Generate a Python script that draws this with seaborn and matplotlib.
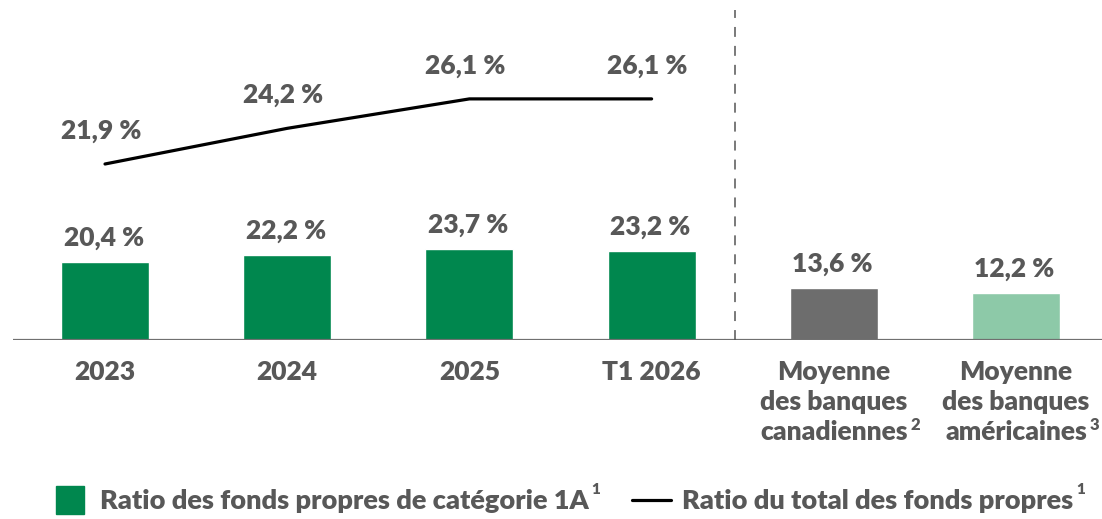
import matplotlib
matplotlib.use("Agg")
import matplotlib.pyplot as plt
import seaborn as sns
import pandas as pd
from matplotlib.lines import Line2D

# Données du graphique
categories = ["2023", "2024", "2025", "T1 2026",
              "Moyenne\ndes banques\ncanadiennes", "Moyenne\ndes banques\naméricaines"]
ratio_1a = [20.4, 22.2, 23.7, 23.2, 13.6, 12.2]
periodes_total = [0, 1, 2, 3]
ratio_total = [21.9, 24.2, 26.1, 26.1]
notes_categories = ["", "", "", "", "2", "3"]
couleurs_barres = ["#00874E", "#00874E", "#00874E", "#00874E", "#6D6D6D", "#8DC9A8"]
legende_labels = ["Ratio des fonds propres de catégorie 1A", "Ratio du total des fonds propres"]
legende_notes = ["1", "1"]

GRIS = "#585858"
VERT = "#00874E"
POIDS = "heavy"
TAILLE = 19


def fmt(v):
    return f"{v:.1f}".replace(".", ",") + " %"


sns.set_style("white")
plt.rcParams['font.family'] = ['Lato', 'DejaVu Sans']

fig = plt.figure(figsize=(11.02, 5.19), dpi=100)
ax = fig.add_axes([13 / 1102, 179 / 519, 1089 / 1102, 340 / 519])

df = pd.DataFrame({"categorie": categories, "ratio": ratio_1a})
sns.barplot(data=df, x="categorie", y="ratio", hue="categorie", palette=couleurs_barres,
            legend=False, width=0.483, saturation=1, ax=ax)
ax.set_xlim(-0.505, 5.472)
ax.set_ylim(0, 88.8)

for i, v in enumerate(ratio_1a):
    ax.annotate(fmt(v), (i, v), xytext=(-1, 17.5), textcoords="offset points",
                ha="center", va="center", fontsize=TAILLE, fontweight=POIDS, color=GRIS)

# ligne du ratio total sur un second axe
ax2 = ax.twinx()
sns.lineplot(x=periodes_total, y=ratio_total, color="black", linewidth=2.3, ax=ax2)
ax2.set_ylim(10.545, 32.48)
for x, v in zip(periodes_total, ratio_total):
    ax2.annotate(fmt(v), (x, v), xytext=(-3, 24), textcoords="offset points",
                 ha="center", va="center", fontsize=TAILLE, fontweight=POIDS, color=GRIS)

ax.axhline(0, color="#707070", linewidth=1.6)
ax.axvline(3.458, ymin=0, ymax=0.97, color="#555555", linewidth=1.1,
           linestyle=(0, (6.5, 5.9)))

for a in (ax, ax2):
    sns.despine(ax=a, left=True, bottom=True, right=True, top=True)
    a.set_yticks([])
    a.set_ylabel("")
ax.set_xlabel("")
ax.tick_params(axis="x", length=0, pad=0)
ax.set_xticks(range(len(categories)))
ax.set_xticklabels([])

for i, lab in enumerate(categories):
    ax.text(i, -0.058, lab, transform=ax.get_xaxis_transform(), ha="center", va="top",
            fontsize=TAILLE, fontweight=POIDS, color=GRIS, linespacing=1.31)

# légende
handles = [Line2D([], [], marker="s", markersize=19.5, color=VERT, linestyle="none"),
           Line2D([], [], color="black", linewidth=2.3)]
leg = fig.legend(handles, legende_labels, loc="center left", bbox_to_anchor=(50 / 1102, 18 / 519),
                 ncol=2, frameon=False, fontsize=19.5, handlelength=1.45, handletextpad=0.38,
                 columnspacing=1.62, borderpad=0, borderaxespad=0)
for t in leg.get_texts():
    t.set_color(GRIS)
    t.set_fontweight(POIDS)

fig.canvas.draw()
renderer = fig.canvas.get_renderer()

# exposants de la légende
for t, note in zip(leg.get_texts(), legende_notes):
    bb = t.get_window_extent(renderer)
    fig.text(bb.x1 + 3, bb.y1 - 1, note, transform=None, ha="left", va="center",
             fontsize=11, fontweight=POIDS, color=GRIS)

# exposants des catégories
for i, (lab, note) in enumerate(zip(categories, notes_categories)):
    if not note:
        continue
    last = lab.split("\n")[-1]
    tmp = ax.text(i, 0, last, fontsize=TAILLE, fontweight=POIDS)
    w = tmp.get_window_extent(renderer).width
    tmp.remove()
    xc = ax.transData.transform((i, 0))[0]
    ybase = ax.transAxes.transform((0, 0))[1] - 85
    fig.text(xc + w / 2 + 3, ybase, note, transform=None, ha="left", va="center",
             fontsize=12, fontweight=POIDS, color=GRIS)

fig.savefig("out.png", dpi=100)
